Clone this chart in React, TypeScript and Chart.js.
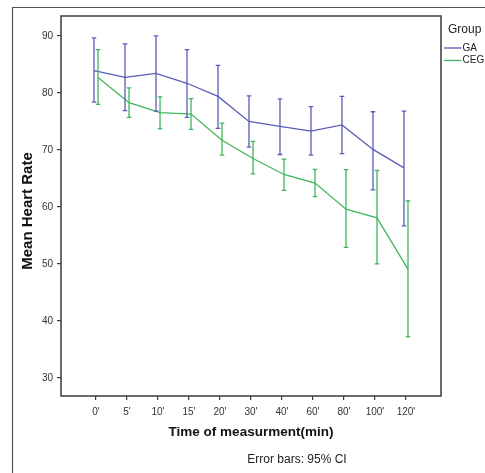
import React, { useEffect, useRef } from "react";
import { Chart, registerables } from "chart.js";

Chart.register(...registerables);

const timeLabels = ["0'", "5'", "10'", "15'", "20'", "30'", "40'", "60'", "80'", "100'", "120'"];
const yTicks = [30, 40, 50, 60, 70, 80, 90];

const gaMean = [83.9, 82.75, 83.45, 81.7, 79.4, 75.0, 74.15, 73.3, 74.4, 70.1, 66.85];
const gaLower = [78.4, 76.9, 76.8, 75.7, 73.8, 70.5, 69.2, 69.1, 69.35, 63.0, 56.7];
const gaUpper = [89.65, 88.6, 90.0, 87.6, 84.85, 79.5, 78.95, 77.6, 79.4, 76.7, 76.8];

const cegMean = [82.7, 78.3, 76.55, 76.3, 71.7, 68.5, 65.7, 64.2, 59.6, 58.1, 49.1];
const cegLower = [78.0, 75.7, 73.7, 73.6, 69.1, 65.8, 62.9, 61.8, 52.9, 50.0, 37.2];
const cegUpper = [87.6, 80.9, 79.3, 79.0, 74.7, 71.5, 68.4, 66.6, 66.55, 66.4, 61.05];

const GA_COLOR = "#5a5db8";
const CEG_COLOR = "#40b65a";
const DODGE = 0.065;

const series = [
  { name: "GA", color: GA_COLOR, mean: gaMean, lower: gaLower, upper: gaUpper, off: -DODGE },
  { name: "CEG", color: CEG_COLOR, mean: cegMean, lower: cegLower, upper: cegUpper, off: DODGE },
];

const decorPlugin = {
  id: "decor",
  beforeDraw(chart: any) {
    const ctx = chart.ctx;
    ctx.save();
    ctx.fillStyle = "#ffffff";
    ctx.fillRect(0, 0, chart.width, chart.height);
    ctx.strokeStyle = "#555555";
    ctx.lineWidth = 1.2;
    ctx.beginPath();
    ctx.moveTo(12.5, chart.height + 2);
    ctx.lineTo(12.5, 7.5);
    ctx.lineTo(chart.width + 2, 7.5);
    ctx.stroke();
    ctx.restore();
  },
  afterDatasetsDraw(chart: any) {
    const ctx = chart.ctx;
    const xs = chart.scales.x;
    const ys = chart.scales.y;
    ctx.save();
    series.forEach((s) => {
      ctx.strokeStyle = s.color;
      ctx.lineWidth = 1.3;
      s.mean.forEach((_, i) => {
        const px = xs.getPixelForValue(i + s.off);
        const lo = ys.getPixelForValue(s.lower[i]);
        const hi = ys.getPixelForValue(s.upper[i]);
        ctx.beginPath();
        ctx.moveTo(px, lo);
        ctx.lineTo(px, hi);
        ctx.moveTo(px - 2.3, lo);
        ctx.lineTo(px + 2.3, lo);
        ctx.moveTo(px - 2.3, hi);
        ctx.lineTo(px + 2.3, hi);
        ctx.stroke();
      });
    });
    ctx.restore();
  },
  afterDraw(chart: any) {
    const ctx = chart.ctx;
    const a = chart.chartArea;
    ctx.save();
    ctx.strokeStyle = "#3a3a3a";
    ctx.lineWidth = 1.5;
    ctx.strokeRect(a.left, a.top, a.right - a.left, a.bottom - a.top);

    ctx.fillStyle = "#111111";
    ctx.font = "bold 15px 'Liberation Sans', Arial, sans-serif";
    ctx.textAlign = "center";
    ctx.textBaseline = "middle";
    ctx.save();
    ctx.translate(28, 211);
    ctx.rotate(-Math.PI / 2);
    ctx.fillText("Mean Heart Rate", 0, 0);
    ctx.restore();

    ctx.font = "bold 13.5px 'Liberation Sans', Arial, sans-serif";
    ctx.fillText("Time of measurment(min)", (a.left + a.right) / 2, 432);

    ctx.font = "12px 'Liberation Sans', Arial, sans-serif";
    ctx.fillStyle = "#222222";
    ctx.fillText("Error bars: 95% CI", 297, 460);

    ctx.textAlign = "left";
    ctx.font = "12px 'Liberation Sans', Arial, sans-serif";
    ctx.fillStyle = "#222222";
    ctx.fillText("Group", 448, 30);
    ctx.font = "10px 'Liberation Sans', Arial, sans-serif";
    series.forEach((s, k) => {
      const y = 48 + k * 12.5;
      ctx.strokeStyle = s.color;
      ctx.lineWidth = 1.3;
      ctx.beginPath();
      ctx.moveTo(444, y);
      ctx.lineTo(461.5, y);
      ctx.stroke();
      ctx.fillStyle = "#222222";
      ctx.fillText(s.name, 462.5, y);
    });
    ctx.restore();
  },
};

export default function App() {
  const ref = useRef<HTMLCanvasElement>(null);
  useEffect(() => {
    if (!ref.current) return;
    const chart = new Chart(ref.current, {
      type: "line",
      data: {
        datasets: series.map((s) => ({
          label: s.name,
          data: s.mean.map((v, i) => ({ x: i + s.off, y: v })),
          borderColor: s.color,
          borderWidth: 1.3,
          pointRadius: 0,
          fill: false,
          tension: 0,
        })),
      },
      options: {
        animation: false,
        responsive: false,
        maintainAspectRatio: false,
        layout: { padding: { top: 16, right: 44, left: 0, bottom: 0 } },
        plugins: { legend: { display: false }, tooltip: { enabled: false }, title: { display: false } },
        scales: {
          x: {
            type: "linear",
            min: -1.13,
            max: 11.13,
            afterBuildTicks: (axis: any) => {
              axis.ticks = timeLabels.map((_, i) => ({ value: i }));
            },
            afterFit: (s: any) => {
              s.height = 77;
            },
            ticks: {
              autoSkip: false,
              maxRotation: 0,
              padding: 6,
              color: "#333333",
              font: { size: 10, family: "'Liberation Sans', Arial, sans-serif" },
              callback: (v: any) => timeLabels[Math.round(Number(v))] ?? "",
            },
            grid: { drawOnChartArea: false, drawTicks: true, tickLength: 4, color: "#3a3a3a", lineWidth: 1.2 },
            border: { display: false },
          },
          y: {
            type: "linear",
            min: 26.84,
            max: 93.5,
            afterBuildTicks: (axis: any) => {
              axis.ticks = yTicks.map((v) => ({ value: v }));
            },
            afterFit: (s: any) => {
              s.width = 61;
            },
            ticks: {
              padding: 4,
              color: "#333333",
              font: { size: 10, family: "'Liberation Sans', Arial, sans-serif" },
              callback: (v: any) => String(v),
            },
            grid: { drawOnChartArea: false, drawTicks: true, tickLength: 4, color: "#3a3a3a", lineWidth: 1.2 },
            border: { display: false },
          },
        },
      },
      plugins: [decorPlugin],
    });
    return () => chart.destroy();
  }, []);
  return (
    <div style={{ position: "absolute", left: 0, top: 0, width: 485, height: 473 }}>
      <canvas ref={ref} width={485} height={473} style={{ width: 485, height: 473, display: "block" }} />
    </div>
  );
}
